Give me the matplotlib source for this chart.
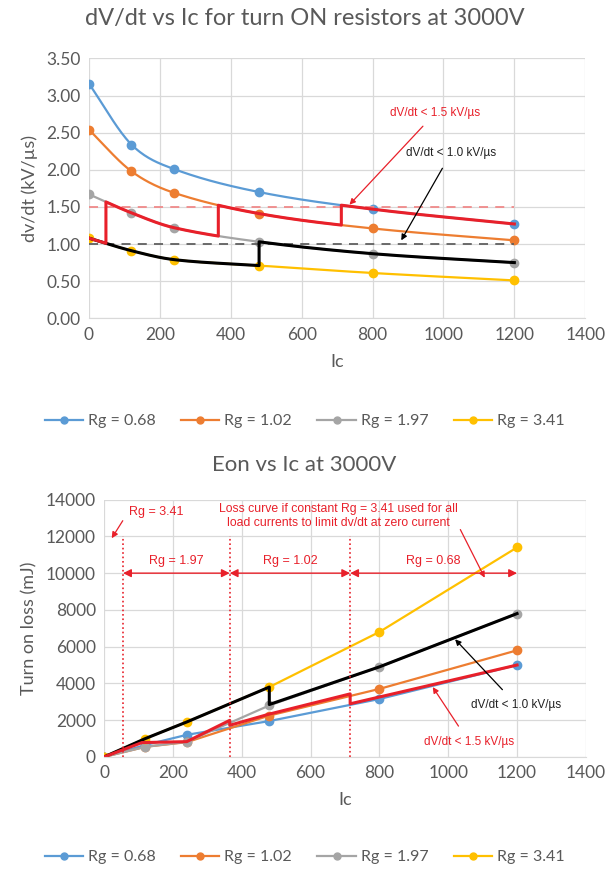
import numpy as np
import matplotlib
matplotlib.use("Agg")
import matplotlib.pyplot as plt

plt.rcParams['font.family'] = ['Lato', 'DejaVu Sans']

# data
ic = [0, 120, 240, 480, 800, 1200]
rg_labels = ['Rg = 0.68', 'Rg = 1.02', 'Rg = 1.97', 'Rg = 3.41']
colors = ['#5B9BD5', '#ED7D31', '#A5A5A5', '#FFC000']

dvdt_068 = [3.16, 2.34, 2.01, 1.70, 1.47, 1.27]
dvdt_102 = [2.54, 1.98, 1.69, 1.41, 1.21, 1.05]
dvdt_197 = [1.67, 1.42, 1.22, 1.03, 0.87, 0.75]
dvdt_341 = [1.08, 0.91, 0.79, 0.71, 0.61, 0.51]

eon_068 = [0, 650, 1200, 1950, 3150, 5000]
eon_102 = [0, 550, 800, 2250, 3700, 5800]
eon_197 = [0, 550, 820, 2800, 4900, 7800]
eon_341 = [0, 1000, 1900, 3800, 6800, 11400]

# envelopes: which Rg curve is used between switch currents
red_switch = [0, 48, 365, 712, 1200]
red_series = [3, 2, 1, 0]
black_switch = [0, 480, 1200]
black_series = [3, 2]

red_eon_x = [0, 110, 240, 365, 365, 480, 715, 715, 1200]
red_eon_y = [0, 780, 830, 1990, 1720, 2330, 3430, 2890, 5000]
black_eon_x = [0, 120, 240, 480, 480, 800, 1200]
black_eon_y = [0, 1000, 1900, 3800, 2850, 4900, 7800]

rg_zones = [55, 365, 715, 1200]
zone_labels = ['Rg = 1.97', 'Rg = 1.02', 'Rg = 0.68']

RED = '#E8202A'
GRID = '#D9D9D9'
TXT = '#595959'
NOTE = ['Liberation Sans', 'DejaVu Sans']


def smooth(x, y, xs):
    # excel-like smoothed line: cubic hermite with catmull-rom slopes
    x = np.asarray(x, float)
    y = np.asarray(y, float)
    m = np.zeros_like(y)
    m[1:-1] = (y[2:] - y[:-2]) / (x[2:] - x[:-2])
    m[0] = (y[1] - y[0]) / (x[1] - x[0])
    m[-1] = (y[-1] - y[-2]) / (x[-1] - x[-2])
    xs = np.asarray(xs, float)
    i = np.clip(np.searchsorted(x, xs) - 1, 0, len(x) - 2)
    h = x[i + 1] - x[i]
    t = (xs - x[i]) / h
    h00 = 2 * t**3 - 3 * t**2 + 1
    h10 = t**3 - 2 * t**2 + t
    h01 = -2 * t**3 + 3 * t**2
    h11 = t**3 - t**2
    return h00 * y[i] + h10 * h * m[i] + h01 * y[i + 1] + h11 * h * m[i + 1]


def envelope(series, switch, idx):
    xs_all, ys_all = [], []
    for k, s in enumerate(idx):
        xs = np.linspace(switch[k], switch[k + 1], 80)
        xs_all.append(xs)
        ys_all.append(smooth(ic, series[s], xs))
    return np.concatenate(xs_all), np.concatenate(ys_all)


def style_axes(ax):
    ax.grid(True, color=GRID, lw=0.9)
    ax.set_axisbelow(True)
    for sp in ['top', 'right', 'left']:
        ax.spines[sp].set_visible(False)
    ax.spines['bottom'].set_color(GRID)
    ax.tick_params(colors=TXT, labelsize=12.5, length=0, pad=6)
    ax.set_xlim(0, 1400)
    ax.set_xticks(range(0, 1401, 200))


fig = plt.figure(figsize=(6.09, 8.72), dpi=100)

# ---------- top chart ----------
ax1 = fig.add_axes([0.146, 0.635, 0.815, 0.298])
style_axes(ax1)
dvdt = [dvdt_068, dvdt_102, dvdt_197, dvdt_341]
xs = np.linspace(0, 1200, 300)
for k in range(4):
    ax1.plot(xs, smooth(ic, dvdt[k], xs), color=colors[k], lw=1.6)
    ax1.plot(ic, dvdt[k], 'o', color=colors[k], ms=6)

ax1.plot([0, 1200], [1.5, 1.5], ls=(0, (5, 4)), color='#F08A8A', lw=1.3)
ax1.plot([0, 1200], [1.0, 1.0], ls=(0, (5, 4)), color='#606060', lw=1.3)

bx, by = envelope(dvdt, black_switch, black_series)
ax1.plot(bx, by, color='black', lw=2.2)
rx, ry = envelope(dvdt, red_switch, red_series)
ax1.plot(rx, ry, color=RED, lw=2.2)

ax1.annotate('dV/dt < 1.5 kV/µs', xy=(735, 1.53), xytext=(976, 2.76),
             ha='center', va='center', fontsize=8.5, color=RED, family=NOTE,
             arrowprops=dict(arrowstyle='-|>', color=RED, lw=0.9,
                             shrinkA=4, shrinkB=0))
ax1.annotate('dV/dt < 1.0 kV/µs', xy=(881, 1.05), xytext=(1021, 2.22),
             ha='center', va='center', fontsize=8.5, color='#222222',
             family=NOTE,
             arrowprops=dict(arrowstyle='-|>', color='black', lw=0.9,
                             shrinkA=5, shrinkB=0))

ax1.set_ylim(0, 3.5)
ax1.set_yticks(np.arange(0, 3.51, 0.5))
ax1.set_yticklabels([f'{v:.2f}' for v in np.arange(0, 3.51, 0.5)])
ax1.set_xlabel('Ic', color=TXT, fontsize=13, labelpad=8)
ax1.set_ylabel('dv/dt (kV/µs)', color=TXT, fontsize=13, labelpad=6)
fig.text(0.5, 0.979, 'dV/dt vs Ic for turn ON resistors at 3000V',
         ha='center', va='center', fontsize=17, color=TXT)

h1 = [plt.Line2D([], [], color=colors[k], marker='o', ms=5, lw=1.6)
      for k in range(4)]
fig.legend(h1, rg_labels, loc='center', bbox_to_anchor=(0.5, 0.517), ncol=4,
           frameon=False, fontsize=11.5, handlelength=2.4, columnspacing=1.6,
           handletextpad=0.3, labelcolor=TXT)

# ---------- bottom chart ----------
ax2 = fig.add_axes([0.171, 0.132, 0.791, 0.295])
style_axes(ax2)
eon = [eon_068, eon_102, eon_197, eon_341]
for k in range(4):
    ax2.plot(ic, eon[k], '-o', color=colors[k], lw=1.6, ms=6)

ax2.plot(black_eon_x, black_eon_y, color='black', lw=2.2)
ax2.plot(red_eon_x, red_eon_y, color=RED, lw=2.2)

for xv in rg_zones[:-1]:
    ax2.plot([xv, xv], [0, 12000], ls=':', color=RED, lw=1.2)
for k in range(3):
    a, b = rg_zones[k], rg_zones[k + 1]
    ax2.annotate('', xy=(a, 10000), xytext=(b, 10000),
                 arrowprops=dict(arrowstyle='<|-|>', color=RED, lw=1.0,
                                 shrinkA=0, shrinkB=0, mutation_scale=12))
    ax2.text((a + b) / 2, 10650, zone_labels[k], ha='center', va='center',
             fontsize=9, color=RED, family=NOTE)

ax2.annotate('Rg = 3.41', xy=(22, 11900), xytext=(150, 13350),
             ha='center', va='center', fontsize=9, color=RED, family=NOTE,
             arrowprops=dict(arrowstyle='-|>', color=RED, lw=0.9,
                             shrinkA=4, shrinkB=0, relpos=(0.0, 0.5)))
ax2.annotate('Loss curve if constant Rg = 3.41 used for all\n'
             'load currents to limit dv/dt at zero current',
             xy=(1106, 9750), xytext=(680, 13100),
             ha='center', va='center', fontsize=8.8, color=RED,
             family=NOTE, linespacing=1.25,
             arrowprops=dict(arrowstyle='-|>', color=RED, lw=0.9,
                             shrinkA=0, shrinkB=0,
                             relpos=(1.0, 0.2)))
ax2.annotate('dV/dt < 1.0 kV/µs', xy=(1020, 6400), xytext=(1198, 2850),
             ha='center', va='center', fontsize=8.5, color='#222222',
             family=NOTE,
             arrowprops=dict(arrowstyle='-|>', color='black', lw=0.9,
                             shrinkA=6, shrinkB=0))
ax2.annotate('dV/dt < 1.5 kV/µs', xy=(955, 3800), xytext=(1060, 820),
             ha='center', va='center', fontsize=8.5, color=RED, family=NOTE,
             arrowprops=dict(arrowstyle='-|>', color=RED, lw=0.9,
                             shrinkA=6, shrinkB=0))

ax2.set_ylim(0, 14000)
ax2.set_yticks(range(0, 14001, 2000))
ax2.set_xlabel('Ic', color=TXT, fontsize=13, labelpad=8)
ax2.set_ylabel('Turn on loss (mJ)', color=TXT, fontsize=13, labelpad=6)
fig.text(0.5, 0.467, 'Eon vs Ic at 3000V', ha='center', va='center',
         fontsize=16, color=TXT)

fig.legend(h1, rg_labels, loc='center', bbox_to_anchor=(0.5, 0.017), ncol=4,
           frameon=False, fontsize=11.5, handlelength=2.4, columnspacing=1.6,
           handletextpad=0.3, labelcolor=TXT)

fig.savefig('out.png', dpi=100)
